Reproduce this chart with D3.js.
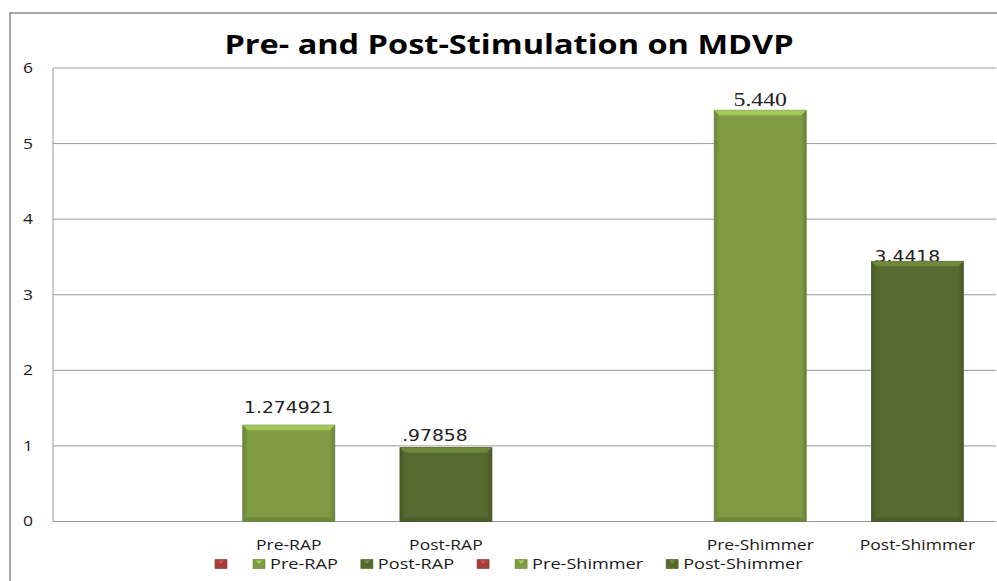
<!DOCTYPE html>
<html>
<head>
<meta charset="utf-8">
<script src="https://cdn.jsdelivr.net/npm/d3@7"></script>
<style>
  body { margin: 0; background: #fff; }
  text { font-family: "Open Sans", sans-serif; fill: #1a1a1a; }
</style>
</head>
<body>
<div id="chart"></div>
<script>
// chart data
const title = "Pre- and Post-Stimulation on MDVP";
const categories = ["", "Pre-RAP", "Post-RAP", "", "Pre-Shimmer", "Post-Shimmer"];
const values = [null, 1.274921, 0.97858, null, 5.44, 3.4418];
const valueLabels = ["", "1.274921", ".97858", "", "5.440", "3.4418"];
const legendNames = ["", "Pre-RAP", "Post-RAP", "", "Pre-Shimmer", "Post-Shimmer"];
const yTicks = [0, 1, 2, 3, 4, 5, 6];

// one colour per series slot
const colors = ["#a33d3b", "#7f9c44", "#566a2f", "#a33d3b", "#7f9c44", "#566a2f"];
// the data labels were typed in different fonts in the original
const labelFonts = ["", "DejaVu Sans", "DejaVu Sans", "", "Liberation Serif", "DejaVu Sans"];
const labelSizes = [0, 15, 15, 0, 19, 15];
const labelShift = [[0, 0], [0, -12], [-11, -7], [0, 0], [0, -4], [-10, 1]];

// the source picture is stretched sideways, so draw in a narrower box and stretch it
const SX = 1.25;
const W = 997, H = 581;
const px = v => v / SX;

const svg = d3.select("#chart").append("svg")
  .attr("width", W)
  .attr("height", H)
  .attr("viewBox", `0 0 ${W / SX} ${H}`)
  .attr("preserveAspectRatio", "none");

// outer chart border (runs off the right and bottom)
svg.append("rect")
  .attr("x", px(10)).attr("y", 13)
  .attr("width", px(1100)).attr("height", 700)
  .attr("fill", "#fff")
  .attr("stroke", "#888")
  .attr("stroke-width", 1.5)
  .attr("vector-effect", "non-scaling-stroke");

const plot = { left: px(53), right: px(996), top: 68, bottom: 521.5 };

const x = d3.scaleBand()
  .domain(d3.range(categories.length))
  .range([plot.left, plot.right])
  .paddingInner(0.415)
  .paddingOuter(0.2075);

const y = d3.scaleLinear()
  .domain([0, 6])
  .range([plot.bottom, plot.top]);

// gridlines
svg.append("g")
  .selectAll("line")
  .data(yTicks)
  .join("line")
  .attr("x1", plot.left).attr("x2", plot.right)
  .attr("y1", d => y(d)).attr("y2", d => y(d))
  .attr("stroke", "#9a9a9a")
  .attr("stroke-width", 1)
  .attr("vector-effect", "non-scaling-stroke");

// left axis line
svg.append("line")
  .attr("x1", plot.left).attr("x2", plot.left)
  .attr("y1", plot.top).attr("y2", plot.bottom)
  .attr("stroke", "#9a9a9a")
  .attr("vector-effect", "non-scaling-stroke");

// y tick labels
svg.append("g")
  .selectAll("text")
  .data(yTicks)
  .join("text")
  .attr("x", px(33))
  .attr("y", d => y(d) + 5)
  .attr("text-anchor", "end")
  .attr("font-size", 14)
  .text(d => d);

// title
svg.append("text")
  .attr("x", px(509))
  .attr("y", 54)
  .attr("text-anchor", "middle")
  .attr("font-size", 26)
  .attr("font-weight", "bold")
  .style("fill", "#000")
  .text(title);

// gradients for the bevelled bars
const defs = svg.append("defs");
colors.forEach((c, i) => {
  const g = defs.append("linearGradient").attr("id", "grad" + i)
    .attr("x1", 0).attr("x2", 1).attr("y1", 0).attr("y2", 0);
  const dark = d3.color(c).darker(0.5);
  g.append("stop").attr("offset", "0%").attr("stop-color", dark);
  g.append("stop").attr("offset", "6%").attr("stop-color", c);
  g.append("stop").attr("offset", "94%").attr("stop-color", c);
  g.append("stop").attr("offset", "100%").attr("stop-color", dark);
});

const barIdx = d3.range(values.length).filter(i => values[i] != null);

// value labels (drawn first, the bar covers them a little)
svg.append("g")
  .selectAll("text")
  .data(barIdx)
  .join("text")
  .attr("x", i => x(i) + x.bandwidth() / 2 + px(labelShift[i][0]))
  .attr("y", i => y(values[i]) + labelShift[i][1])
  .attr("text-anchor", "middle")
  .style("font-family", i => `"${labelFonts[i]}"`)
  .attr("font-size", i => labelSizes[i])
  .style("fill", "#222")
  .text(i => valueLabels[i]);

// bars
const bars = svg.append("g")
  .selectAll("g")
  .data(barIdx)
  .join("g");

bars.append("rect")
  .attr("x", i => x(i))
  .attr("y", i => y(values[i]))
  .attr("width", x.bandwidth())
  .attr("height", i => plot.bottom - y(values[i]))
  .attr("fill", i => `url(#grad${i})`)
  .attr("stroke", i => d3.color(colors[i]).darker(0.7))
  .attr("stroke-width", 0.8)
  .attr("vector-effect", "non-scaling-stroke");

// top bevel
bars.append("path")
  .attr("d", i => {
    const x0 = x(i), x1 = x(i) + x.bandwidth(), t = y(values[i]);
    const d = px(5), h = 5;
    return `M${x0},${t}L${x1},${t}L${x1 - d},${t + h}L${x0 + d},${t + h}Z`;
  })
  .attr("fill", i => d3.color(colors[i]).brighter(0.7));

// bottom shade
bars.append("path")
  .attr("d", i => {
    const x0 = x(i), x1 = x(i) + x.bandwidth(), b = plot.bottom;
    const d = px(4), h = 4;
    return `M${x0},${b}L${x1},${b}L${x1 - d},${b - h}L${x0 + d},${b - h}Z`;
  })
  .attr("fill", i => d3.color(colors[i]).darker(0.4));

// category labels
svg.append("g")
  .selectAll("text")
  .data(d3.range(categories.length))
  .join("text")
  .attr("x", i => x(i) + x.bandwidth() / 2)
  .attr("y", 550)
  .attr("text-anchor", "middle")
  .attr("font-size", 14)
  .text(i => categories[i]);

// legend
const legend = svg.append("g");
let lx = px(215);
legendNames.forEach((name, i) => {
  const item = legend.append("g");
  item.append("rect")
    .attr("x", lx).attr("y", 559.5)
    .attr("width", px(12)).attr("height", 9)
    .attr("fill", colors[i])
    .attr("stroke", d3.color(colors[i]).darker(0.6))
    .attr("stroke-width", 0.6)
    .attr("vector-effect", "non-scaling-stroke");
  item.append("path")
    .attr("d", `M${lx + px(3)},${560.5}L${lx + px(9)},${560.5}L${lx + px(6)},${564}Z`)
    .attr("fill", d3.color(colors[i]).brighter(0.8));
  const t = item.append("text")
    .attr("x", lx + px(17))
    .attr("y", 569)
    .attr("font-size", 14.5)
    .text(name);
  const tw = name ? t.node().getComputedTextLength() : 0;
  lx = name ? lx + px(17) + tw + px(23) : lx + px(38);
});
</script>
</body>
</html>
